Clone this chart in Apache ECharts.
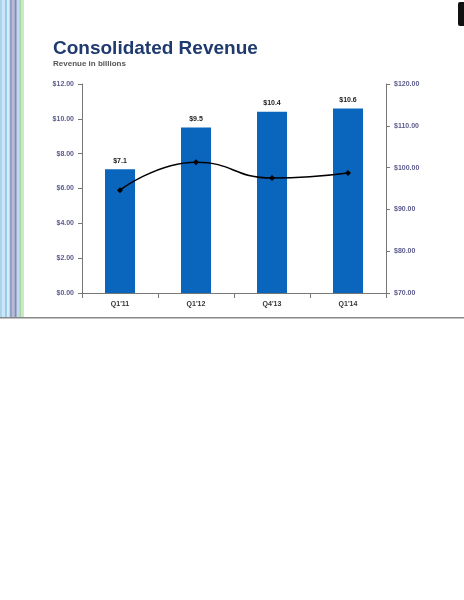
<!DOCTYPE html>
<html><head><meta charset="utf-8">
<script src="https://cdn.jsdelivr.net/npm/echarts@6/dist/echarts.min.js"></script>
<style>html,body{margin:0;padding:0;background:#fff}#c{width:464px;height:600px}</style>
</head><body><div id="c"></div>
<script>
const categories = ["Q1'11", "Q1'12", "Q4'13", "Q1'14"];
const revenue = [7.1, 9.5, 10.4, 10.6];
const revenueLabels = ['$7.1', '$9.5', '$10.4', '$10.6'];
const lineValues = [94.6, 101.3, 97.5, 98.7];
const stripeColors = ['#a9d3ef','#c8e6f7','#9ccbe9','#d6ecf8','#8fa3c8','#b9b9d6','#7d8db9','#c3d8ea','#a7d6a5','#cbe8c9'];

const chart = echarts.init(document.getElementById('c'));
const stripes = stripeColors.map((c,i)=>({type:'rect',left:i*2.4,top:0,shape:{width:2.4,height:318},style:{fill:c}}));
chart.setOption({
  animation:false,
  title:{text:'Consolidated Revenue',left:48,top:34,textStyle:{color:'#1f3a6e',fontSize:19,fontWeight:'bold',fontFamily:'Liberation Sans'},
    subtext:'Revenue in billions',subtextStyle:{color:'#555',fontSize:8,fontWeight:'bold',fontFamily:'Liberation Sans'},itemGap:2},
  graphic:[...stripes,
    {type:'rect',left:0,top:317,shape:{width:464,height:1.5},style:{fill:'#888'}},
    {type:'rect',left:458,top:2,shape:{width:8,height:24,r:2},style:{fill:'#111'}}],
  grid:{left:82,right:78,top:84,bottom:307},
  xAxis:{type:'category',data:categories,axisLine:{lineStyle:{color:'#777'}},axisTick:{show:true,lineStyle:{color:'#777'}},
    axisLabel:{color:'#333',fontSize:7,fontWeight:'bold',fontFamily:'Liberation Sans'}},
  yAxis:[
    {type:'value',min:0,max:12,interval:2,splitLine:{show:false},axisLine:{show:true,lineStyle:{color:'#777'}},axisTick:{show:true,length:4,lineStyle:{color:'#777'}},
      axisLabel:{formatter:v=>'$'+v.toFixed(2),color:'#5a5a8c',fontSize:7,fontWeight:'bold',fontFamily:'Liberation Sans'}},
    {type:'value',min:70,max:120,interval:10,position:'right',splitLine:{show:false},axisLine:{show:true,lineStyle:{color:'#777'}},axisTick:{show:true,length:4,lineStyle:{color:'#777'}},
      axisLabel:{formatter:v=>'$'+v.toFixed(2),color:'#5a5a8c',fontSize:7,fontWeight:'bold',fontFamily:'Liberation Sans'}}
  ],
  series:[
    {type:'bar',data:revenue,barWidth:30,itemStyle:{color:'#0a66bd'},
      label:{show:true,position:'top',formatter:p=>revenueLabels[p.dataIndex],color:'#222',fontSize:7,fontWeight:'bold',fontFamily:'Liberation Sans'}},
    {type:'line',yAxisIndex:1,data:lineValues,smooth:true,symbol:'diamond',symbolSize:6,lineStyle:{color:'#000',width:1.5},itemStyle:{color:'#000'}}
  ]
});
</script></body></html>
